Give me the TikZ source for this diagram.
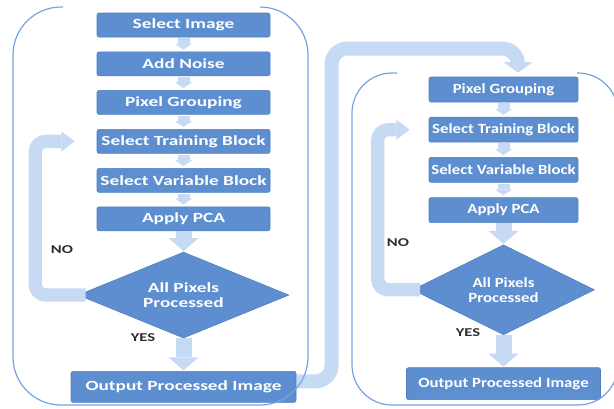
\documentclass[tikz,border=0pt]{standalone}
\usepackage{fontspec}
\setmainfont{Carlito}
\newfontfamily\panelfontL[FakeStretch=1.38]{Carlito}
\newfontfamily\panelfontR[FakeStretch=1.2]{Carlito}
\usetikzlibrary{shapes.geometric, arrows.meta, positioning, backgrounds}
\definecolor{boxblue}{RGB}{92,142,208}
\definecolor{boxedge}{RGB}{78,126,192}
\definecolor{pipeblue}{RGB}{198,218,244}
\definecolor{frameblue}{RGB}{118,163,224}
\definecolor{labelgray}{RGB}{45,45,45}

\begin{document}
\begin{tikzpicture}[x=0.75pt, y=-0.75pt,
  stepbox/.style={rectangle, draw=boxedge, fill=boxblue, rounded corners=1.5pt,
                  text=white, inner sep=0pt, align=center},
  lbox/.style={stepbox, minimum width=129.75pt, minimum height=18pt,
               font=\panelfontL\bfseries\fontsize{10.5}{12}\selectfont},
  rbox/.style={stepbox, minimum width=111.75pt, minimum height=18.75pt,
               font=\panelfontR\bfseries\fontsize{10.5}{12}\selectfont},
  decision/.style={diamond, aspect=2.5, draw=boxedge, fill=boxblue, text=white,
                   inner sep=0pt, align=center},
  ynlabel/.style={text=labelgray, inner sep=0pt,
                  font=\panelfontL\bfseries\fontsize{9}{11}\selectfont},
  frame/.style={draw=frameblue, line width=0.9pt},
  smallarr/.style={draw=pipeblue, line width=9pt,
                   -{Triangle[length=4.5pt, width=13pt, line width=0pt]},
                   shorten <=0.75pt, shorten >=1.5pt},
  bigarr/.style={draw=pipeblue, line width=12pt,
                 -{Triangle[length=9.75pt, width=22.5pt, line width=0pt]},
                 shorten >=0.5pt},
  looparr/.style={draw=pipeblue, line width=10pt, rounded corners=8pt,
                  -{Triangle[length=10pt, width=15pt, line width=0pt]}}
]
\useasboundingbox (0,0) rectangle (614,408);
\clip (0,0) rectangle (614,408);

% first pass
\node[lbox] (si1) at (183.5,25) {Select Image};
\node[lbox, below=10.8pt of si1] (an1) {Add Noise};
\node[lbox, below=10.5pt of an1] (pg1) {Pixel Grouping};
\node[lbox, below=10.8pt of pg1] (st1) {Select Training Block};
\node[lbox, below=10.8pt of st1] (sv1) {Select Variable Block};
\node[lbox, below=10.5pt of sv1] (ap1) {Apply PCA};
\node[decision, minimum width=158.25pt, minimum height=64.5pt,
      font=\panelfontL\bfseries\fontsize{10.5}{11.25}\selectfont,
      below=15.5pt of ap1] (d1) {All Pixels\\Processed};
\node[stepbox, minimum width=168.75pt, minimum height=23.25pt,
      font=\panelfontL\bfseries\fontsize{10.5}{12}\selectfont,
      below=24.5pt of d1] (out1) {Output Processed Image};
\node[ynlabel] (no1) at (62,250) {NO};
\node[ynlabel] (yes1) at (143,338) {YES};

% second pass
\node[rbox] (pg2) at (503.5,89.5) {Pixel Grouping};
\node[rbox, below=11pt of pg2] (st2) {Select Training Block};
\node[rbox, below=11pt of st2] (sv2) {Select Variable Block};
\node[rbox, below=11pt of sv2] (ap2) {Apply PCA};
\node[decision, minimum width=136.5pt, minimum height=67.5pt,
      font=\panelfontR\bfseries\fontsize{10.5}{11.5}\selectfont,
      below=16.25pt of ap2] (d2) {All Pixels\\Processed};
\node[stepbox, minimum width=145.5pt, minimum height=24pt,
      font=\panelfontR\bfseries\fontsize{10.5}{12}\selectfont,
      below=24.25pt of d2] (out2) {Output Processed Image};
\node[ynlabel] (no2) at (398,243) {NO};
\node[ynlabel] (yes2) at (468,333) {YES};

\foreach \a/\b in {si1/an1, an1/pg1, pg1/st1, st1/sv1, sv1/ap1, pg2/st2, st2/sv2, sv2/ap2}
  \draw[smallarr] (\a) -- (\b);
\draw[bigarr] (ap1) -- (d1);
\draw[bigarr] (d1) -- (out1);
\draw[bigarr] (ap2) -- (d2);
\draw[bigarr] (d2) -- (out2);

% NO loops
\draw[looparr] ([xshift=6pt]d1.west) -- ++(-50.5,0) |- ([xshift=-16.5pt]st1.west);
\draw[looparr] ([xshift=6pt]d2.west) -- ++(-42.5,0) |- ([xshift=-14.25pt]st2.west);

% hand-over between the passes
\coordinate (upturn) at (331.5,48.5);
\begin{scope}[on background layer]
\draw[draw=pipeblue, line width=10.5pt, rounded corners=12pt,
      -{Triangle[length=8pt, width=22pt, line width=0pt]}]
  ([yshift=4pt]out1.east) -| (upturn) -| ([xshift=10.9pt, yshift=3pt]pg2.north);
\end{scope}

% panel outlines
\draw[frame, rounded corners=36pt] (63,7) -- (13,7) -- (13,405) -- (308,405) -- (308,7) -- (260,7);
\draw[frame, rounded corners=30pt] (397,73) -- (352,73) -- (352,405) -- (618,405) -- (618,73) -- (577,73);
\end{tikzpicture}
\end{document}
